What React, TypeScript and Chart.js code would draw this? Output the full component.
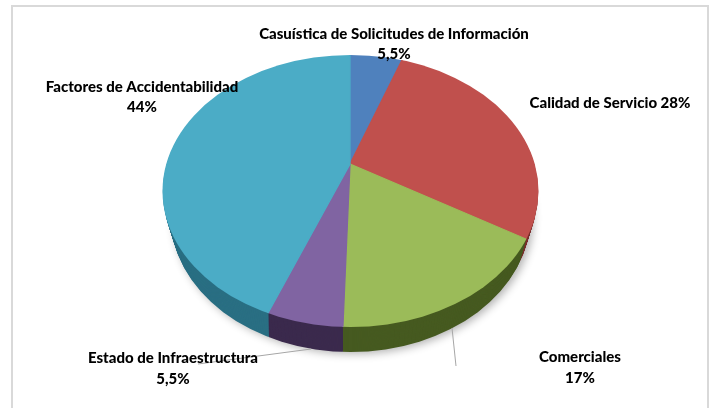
import React, { useEffect, useRef } from "react";
import { Chart, registerables } from "chart.js";

Chart.register(...registerables);

// ---- data ----
const categories = [
  "Casuística de Solicitudes de Información",
  "Calidad de Servicio",
  "Comerciales",
  "Estado de Infraestructura",
  "Factores de Accidentabilidad",
];
const values = [5.5, 28, 17, 5.5, 44];
const valueLabels = ["5,5%", "28%", "17%", "5,5%", "44%"];

// ---- styles ----
const topColors = ["#4f81bd", "#c0504d", "#9bbb59", "#8064a2", "#4bacc6"];
const sideColors = ["#2f4e74", "#7a2f2d", "#465a20", "#3b2a4d", "#2a6f83"];

// ---- layout (3D look) ----
const PIE = { cx: 350, cy: 164, tilt: 0.72, r: 240 }; // projected pie centre
const RIM = { cx: 350.5, cy: 191, rx: 188, ry: 136, depth: 25, shrink: 8 }; // top-face outline

const labelLayout: { lines: string[]; x: number; y: number[] }[] = [
  { lines: [categories[0], valueLabels[0]], x: 394, y: [34, 54] },
  { lines: [categories[1] + " " + valueLabels[1]], x: 610, y: [103] },
  { lines: [categories[2], valueLabels[2]], x: 580, y: [357, 378] },
  { lines: [categories[3], valueLabels[3]], x: 173, y: [358, 379] },
  { lines: [categories[4], valueLabels[4]], x: 142, y: [87, 107] },
];
const leaders = [
  { from: [452, 328], to: [456, 366] },
  { from: [311, 349], to: [198, 364] },
];

const FONT = "900 15px Lato, 'Open Sans', sans-serif";

let opened = false;

const pie3d = {
  id: "pie3d",
  beforeDatasetsDraw(chart: any) {
    const ctx: CanvasRenderingContext2D = chart.ctx;
    const arcs = chart.getDatasetMeta(0).data;
    opened = false;
    if (!arcs.length) return;
    const a0 = arcs[0].getProps(["x", "y", "outerRadius"], true);
    const s = PIE.r / a0.outerRadius;
    const xf = (dy: number) => {
      ctx.translate(PIE.cx, PIE.cy + dy);
      ctx.scale(s, s * PIE.tilt);
      ctx.translate(-a0.x, -a0.y);
    };
    const D = RIM.depth;
    // soft shadow under the bottom outline
    ctx.save();
    ctx.beginPath();
    ctx.ellipse(RIM.cx - 3000, RIM.cy + D, RIM.rx - RIM.shrink, RIM.ry, 0, 0, Math.PI * 2);
    ctx.shadowColor = "rgba(0,0,0,0.3)";
    ctx.shadowBlur = 9;
    ctx.shadowOffsetX = 3000 + 3;
    ctx.shadowOffsetY = 2;
    ctx.fillStyle = "#000";
    ctx.fill();
    ctx.restore();
    // side walls
    for (let d = D; d >= 1; d--) {
      ctx.save();
      ctx.beginPath();
      ctx.ellipse(RIM.cx, RIM.cy + d, RIM.rx - (RIM.shrink * d) / D, RIM.ry, 0, 0, Math.PI * 2);
      ctx.clip();
      xf(d);
      arcs.forEach((arc: any, i: number) => {
        const p = arc.getProps(["x", "y", "startAngle", "endAngle", "outerRadius"], true);
        ctx.beginPath();
        ctx.moveTo(p.x, p.y);
        ctx.arc(p.x, p.y, p.outerRadius, p.startAngle, p.endAngle);
        ctx.closePath();
        ctx.fillStyle = sideColors[i];
        ctx.fill();
      });
      ctx.restore();
    }
    // top face
    ctx.save();
    ctx.beginPath();
    ctx.ellipse(RIM.cx, RIM.cy, RIM.rx, RIM.ry, 0, 0, Math.PI * 2);
    ctx.clip();
    xf(0);
    opened = true;
  },
  afterDatasetsDraw(chart: any) {
    if (opened) chart.ctx.restore();
    opened = false;
  },
  afterDraw(chart: any) {
    const ctx: CanvasRenderingContext2D = chart.ctx;
    ctx.save();
    ctx.strokeStyle = "#a6a6a6";
    ctx.lineWidth = 1;
    leaders.forEach((l) => {
      ctx.beginPath();
      ctx.moveTo(l.from[0], l.from[1]);
      ctx.lineTo(l.to[0], l.to[1]);
      ctx.stroke();
    });
    ctx.fillStyle = "#000";
    ctx.font = FONT;
    ctx.textAlign = "center";
    ctx.textBaseline = "middle";
    labelLayout.forEach((lb) => {
      lb.lines.forEach((t, j) => ctx.fillText(t, lb.x, lb.y[j]));
    });
    ctx.restore();
  },
};

export default function App() {
  const ref = useRef<HTMLCanvasElement>(null);
  useEffect(() => {
    if (!ref.current) return;
    const chart = new Chart(ref.current, {
      type: "pie",
      data: {
        labels: categories,
        datasets: [
          {
            data: values,
            backgroundColor: topColors,
            borderColor: topColors,
            borderWidth: 1,
            clip: false as any,
          } as any,
        ],
      },
      options: {
        responsive: false,
        animation: false,
        events: [],
        layout: { padding: 20 },
        plugins: { legend: { display: false }, tooltip: { enabled: false } },
      },
      plugins: [pie3d],
    });
    return () => chart.destroy();
  }, []);
  return (
    <div style={{ position: "fixed", left: 0, top: 0, width: 712, height: 408, background: "#fff", overflow: "hidden" }}>
      <canvas ref={ref} width={712} height={408} style={{ display: "block", width: 712, height: 408 }} />
      <div
        style={{
          position: "absolute",
          left: 11,
          top: 5,
          width: 694,
          height: 420,
          border: "2px solid #d9d9d9",
          pointerEvents: "none",
        }}
      />
    </div>
  );
}
